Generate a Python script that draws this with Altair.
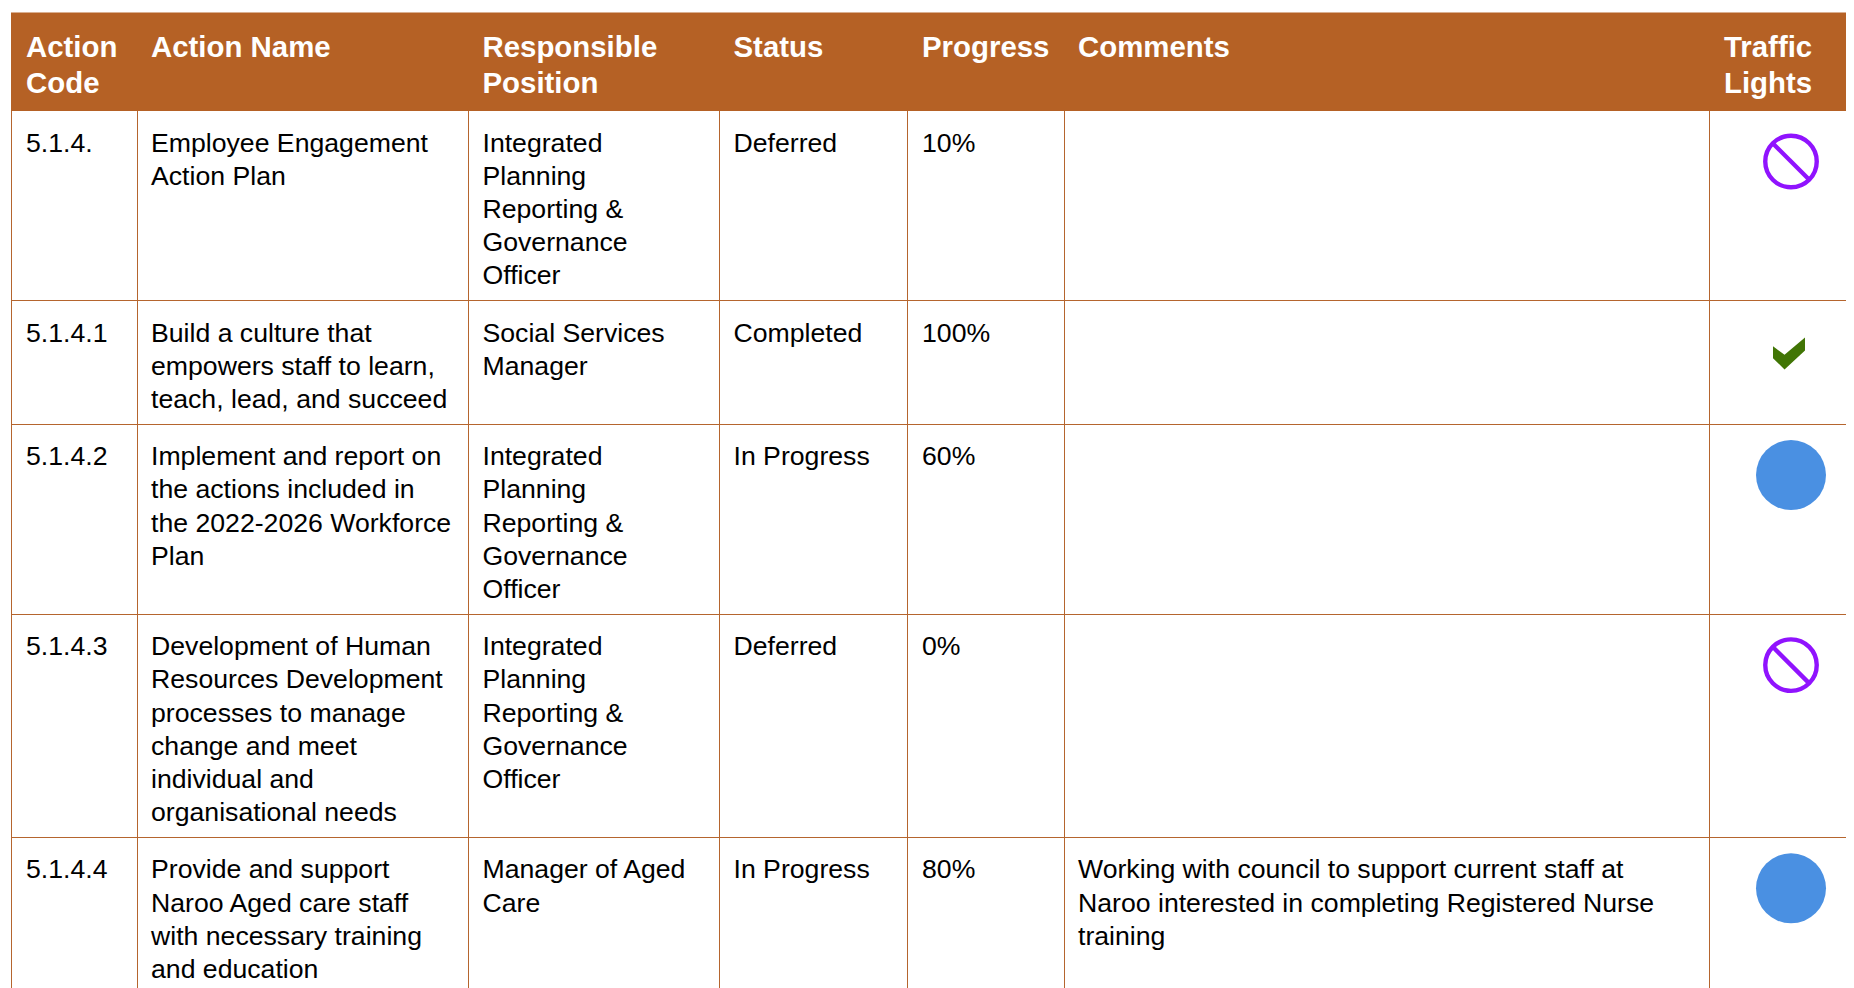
import math
import altair as alt
import pandas as pd

header = [["Action", "Code"], ["Action Name"], ["Responsible", "Position"], ["Status"],
          ["Progress"], ["Comments"], ["Traffic", "Lights"]]
codes = ["5.1.4.", "5.1.4.1", "5.1.4.2", "5.1.4.3", "5.1.4.4"]
names = [
    ["Employee Engagement", "Action Plan"],
    ["Build a culture that", "empowers staff to learn,", "teach, lead, and succeed"],
    ["Implement and report on", "the actions included in", "the 2022-2026 Workforce", "Plan"],
    ["Development of Human", "Resources Development", "processes to manage", "change and meet", "individual and", "organisational needs"],
    ["Provide and support", "Naroo Aged care staff", "with necessary training", "and education"],
]
ipr = ["Integrated", "Planning", "Reporting &", "Governance", "Officer"]
positions = [ipr, ["Social Services", "Manager"], ipr, ipr, ["Manager of Aged", "Care"]]
statuses = ["Deferred", "Completed", "In Progress", "Deferred", "In Progress"]
progress = ["10%", "100%", "60%", "0%", "80%"]
comments = [[], [], [], [], ["Working with council to support current staff at",
                             "Naroo interested in completing Registered Nurse", "training"]]

# table layout (page pixels)
W, H = 1846, 988
LEFT, TOP, HEAD_BOTTOM = 11.5, 12.5, 111
FIRST_ROW_TOP = 110.5
COL_X = [137.5, 468.5, 719.5, 907.5, 1064.5, 1709.5]
TEXT_X = [26, 151, 482.5, 733.5, 922, 1078, 1724]
LINE_H, PAD, FIRST = 33.2, 24, 41
ICON_X = 1791

cols = [[[c] for c in codes], names, positions, [[s] for s in statuses],
        [[p] for p in progress], comments]

text_rows, head_rows = [], []
for tx, lines in zip(TEXT_X, header):
    for i, t in enumerate(lines):
        head_rows.append({"x": tx, "y": 57 + i * 36, "t": t})

row_tops = [FIRST_ROW_TOP]
for r in range(len(codes)):
    n = max(len(c[r]) for c in cols)
    top = row_tops[-1]
    for tx, c in zip(TEXT_X, cols):
        for i, t in enumerate(c[r]):
            text_rows.append({"x": tx, "y": top + FIRST + i * LINE_H, "t": t})
    row_tops.append(top + n * LINE_H + PAD)
rule_tops = [math.floor(y) + 0.5 for y in row_tops[1:-1]]

xs = alt.Scale(domain=[8, W], nice=False, zero=False)
ys = alt.Scale(domain=[8, H], nice=False, zero=False, reverse=True)
X = lambda f="x": alt.X(f"{f}:Q", scale=xs, axis=None)
Y = lambda f="y": alt.Y(f"{f}:Q", scale=ys, axis=None)

LINE = "#B5652E"
head_bg = alt.Chart(pd.DataFrame([{"x": LEFT - 0.5, "x2": W, "y": TOP, "y2": HEAD_BOTTOM}])).mark_rect(
    color="#B56125", clip=True).encode(X(), x2="x2:Q", y=Y(), y2="y2:Q")

vdf = pd.DataFrame([{"x": x, "y": HEAD_BOTTOM, "y2": H} for x in [LEFT] + COL_X])
vlines = alt.Chart(vdf).mark_rule(color=LINE, strokeWidth=1, clip=True).encode(X(), y=Y(), y2="y2:Q")
hdf = pd.DataFrame([{"y": y, "x": LEFT, "x2": W} for y in rule_tops])
hlines = alt.Chart(hdf).mark_rule(color=LINE, strokeWidth=1, clip=True).encode(X(), x2="x2:Q", y=Y())

htext = alt.Chart(pd.DataFrame(head_rows)).mark_text(
    font="Liberation Sans", fontWeight="bold", fontSize=29.4, color="white", align="left", baseline="alphabetic"
).encode(X(), Y(), text="t:N")
btext = alt.Chart(pd.DataFrame(text_rows)).mark_text(
    font="Liberation Sans", fontSize=26.65, color="black", align="left", baseline="alphabetic", clip=True
).encode(X(), Y(), text="t:N")

blue = pd.DataFrame([{"x": ICON_X, "y": row_tops[i] + 51} for i, s in enumerate(statuses) if s == "In Progress"])
purple = pd.DataFrame([{"x": ICON_X, "y": row_tops[i] + 51} for i, s in enumerate(statuses) if s == "Deferred"])
green = pd.DataFrame([{"x": ICON_X - 2, "y": row_tops[i] + 53} for i, s in enumerate(statuses) if s == "Completed"])

blue_m = alt.Chart(blue).mark_point(shape="circle", filled=True, color="#4A90E2", opacity=1, size=4900).encode(X(), Y())
ring = alt.Chart(purple).mark_point(shape="circle", filled=False, color="#9013FE", opacity=1, size=2650, strokeWidth=4.4).encode(X(), Y())
bar = alt.Chart(purple).mark_point(shape="M-0.72,-0.72L0.72,0.72", filled=False, color="#9013FE", opacity=1, size=2650, strokeWidth=4.4).encode(X(), Y())
check = alt.Chart(green).mark_point(
    shape="M-1,-0.46L-0.28,0.08L1,-1L1,-0.18L-0.28,1L-1,0.29Z", filled=True, color="#417505", opacity=1, size=1024
).encode(X(), Y())

chart = alt.layer(head_bg, vlines, hlines, htext, btext, blue_m, ring, bar, check).properties(
    width=W - 8, height=H - 8, padding=0, background="white"
).configure_view(stroke=None)

chart.save("out.html", embed_options={"renderer": "svg", "actions": False})
